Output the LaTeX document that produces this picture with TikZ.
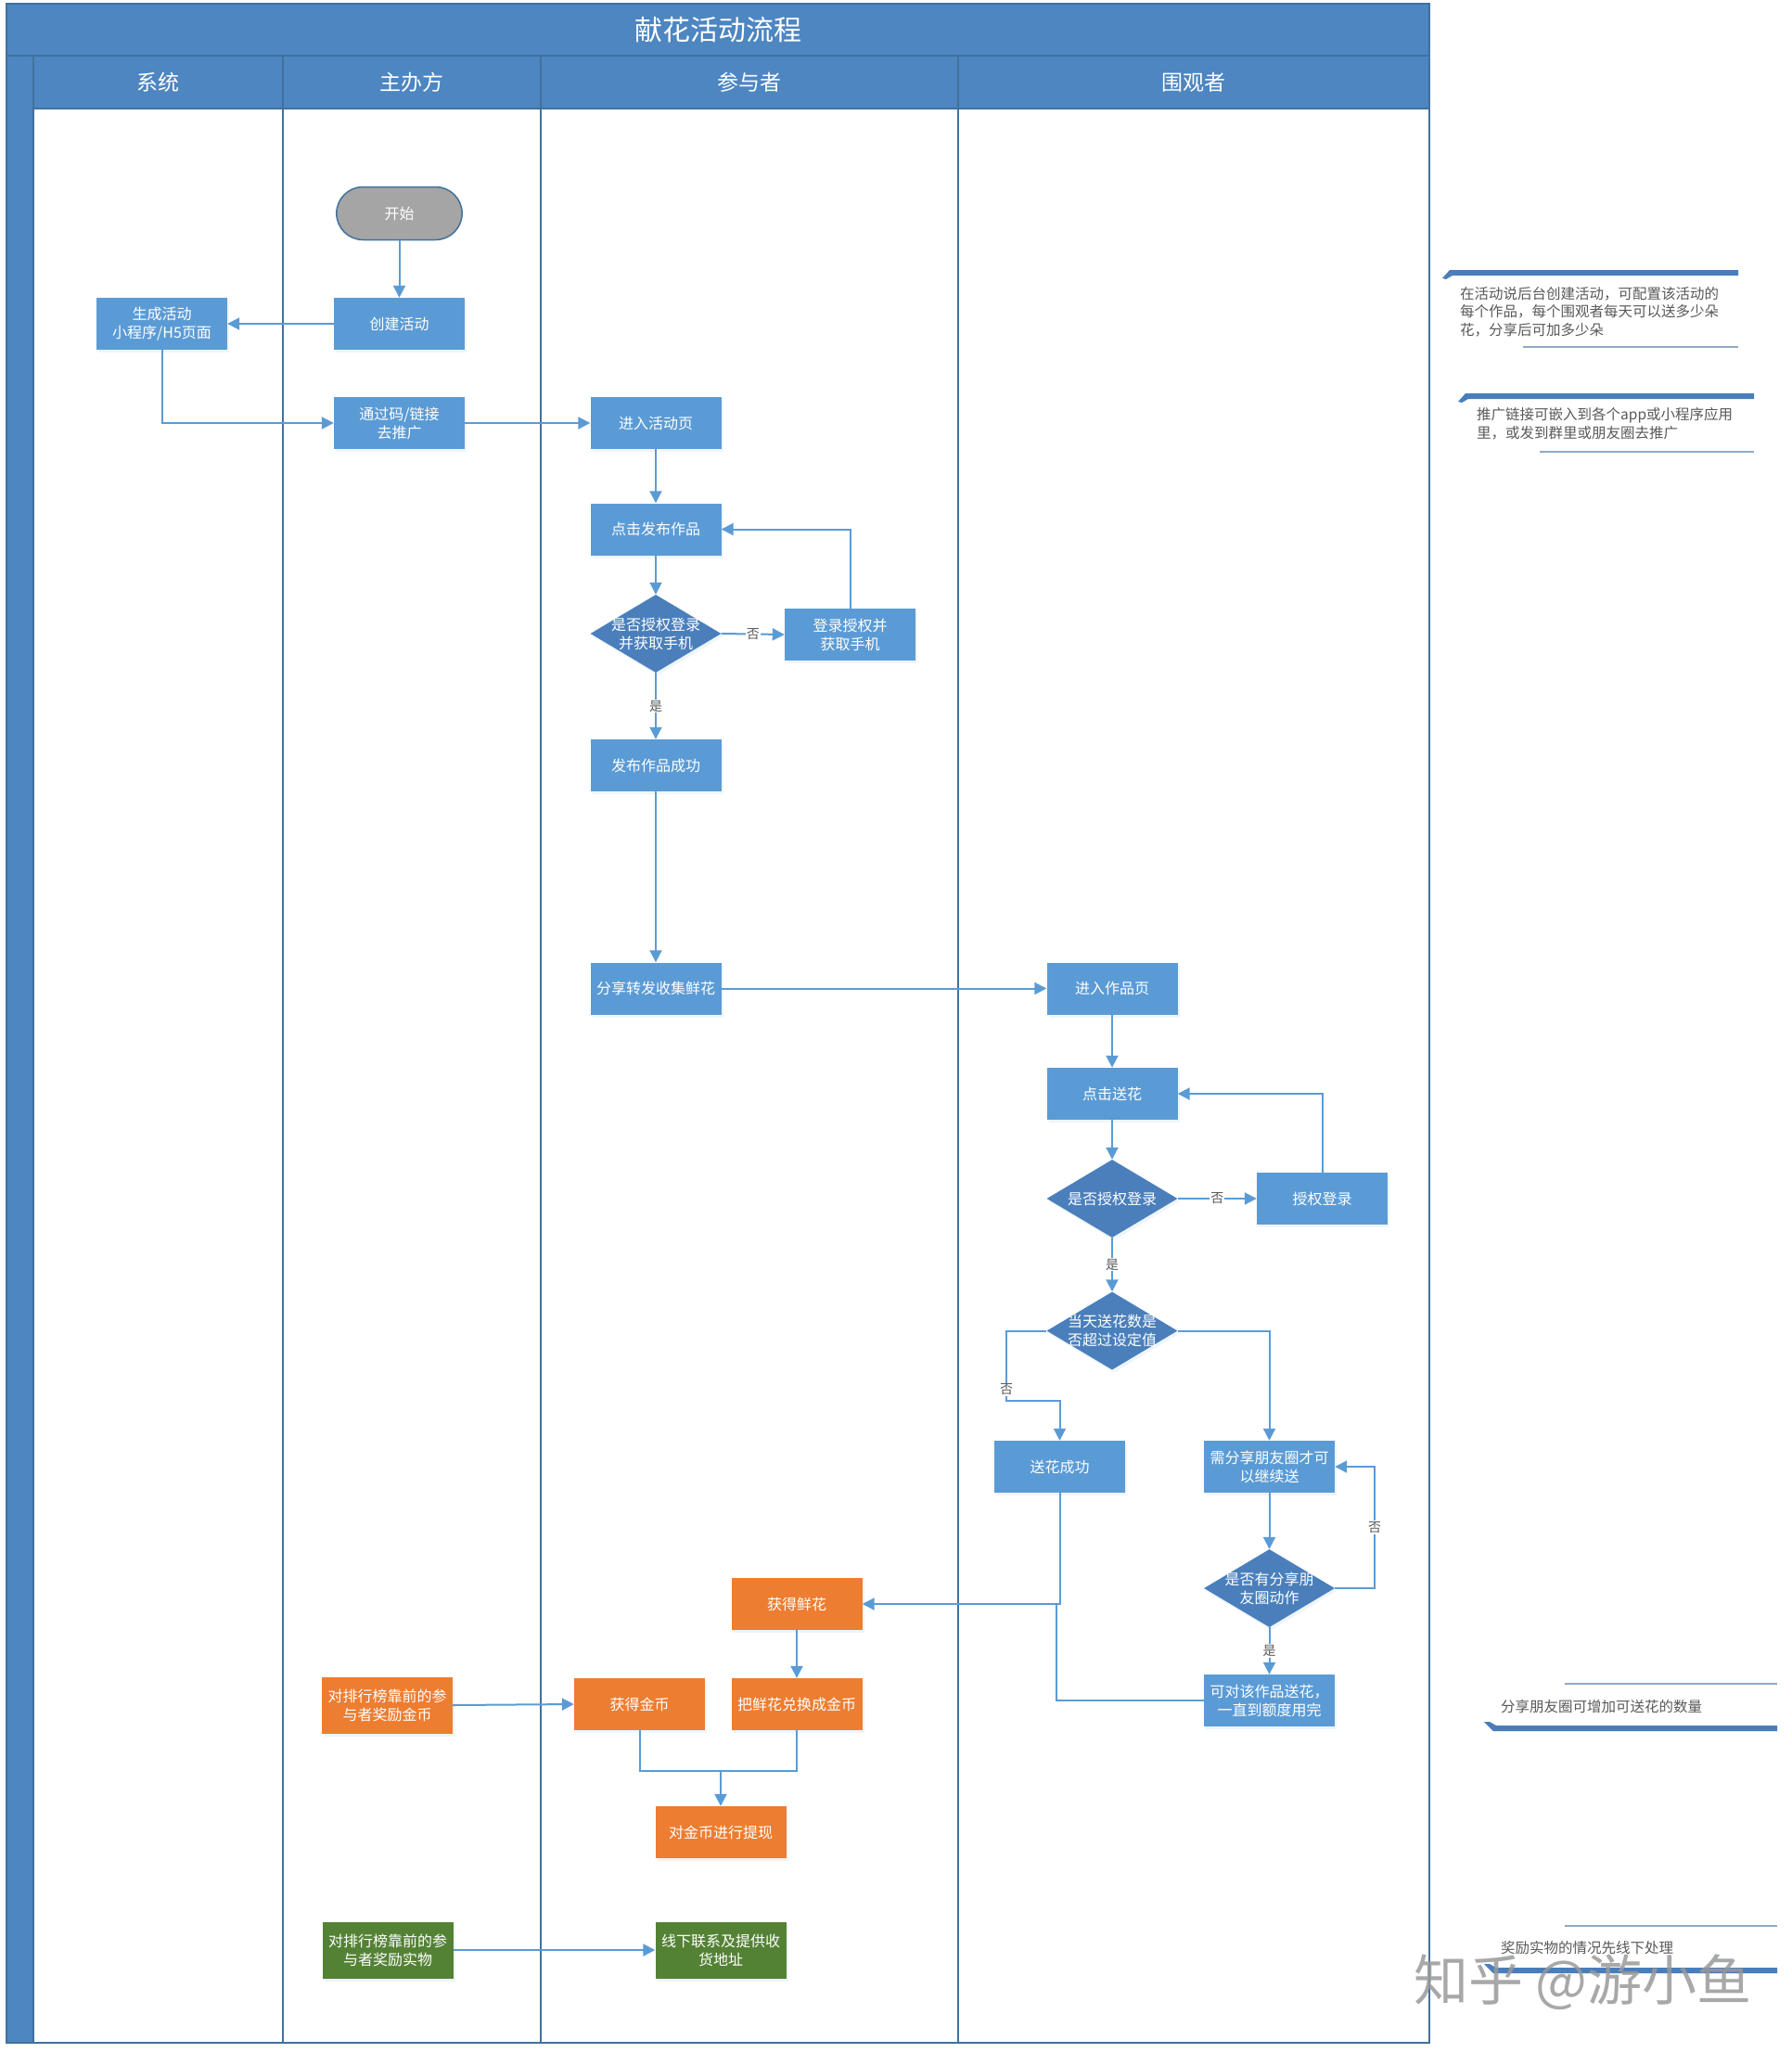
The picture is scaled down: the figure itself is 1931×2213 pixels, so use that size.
\documentclass[tikz,border=0pt]{standalone}
\usepackage{fontspec}
\newfontfamily\cjk{Noto Sans CJK SC}
\usetikzlibrary{arrows.meta,shapes.geometric,shapes.misc,shadows}
\definecolor{hdr}{HTML}{4D86C1}
\definecolor{lane}{HTML}{41719C}
\definecolor{bx}{HTML}{5B9BD5}
\definecolor{dia}{HTML}{4A7FBC}
\definecolor{org}{HTML}{ED7D31}
\definecolor{grn}{HTML}{548235}
\definecolor{stgray}{HTML}{A5A5A5}
\definecolor{note}{HTML}{595959}
\definecolor{barc}{HTML}{4A7EBB}
\definecolor{thinc}{HTML}{8FAAC4}
\begin{document}
\begin{tikzpicture}[x=1pt,y=-1pt,
  base/.style={rectangle, minimum width=141pt, minimum height=56pt, inner sep=2pt,
    text=white, align=center, font=\cjk\fontsize{16}{20}\selectfont,
    drop shadow={shadow xshift=2pt,shadow yshift=-3pt,opacity=0.2,fill=bx!50}},
  bbox/.style={base, fill=bx},
  obox/.style={base, fill=org},
  gbox/.style={base, fill=grn, minimum height=61pt},
  dbox/.style={diamond, fill=dia, minimum width=141pt, minimum height=84pt, inner sep=0pt,
    drop shadow={shadow xshift=2pt,shadow yshift=-3pt,opacity=0.2,fill=bx!50}},
  dlab/.style={text=white, align=center, inner sep=0pt, font=\cjk\fontsize{16}{20}\selectfont},
  stbox/.style={rounded rectangle, fill=stgray, draw=lane, line width=1.5pt,
    minimum width=142pt, minimum height=57pt, text=white, font=\cjk\fontsize{16}{20}\selectfont},
  arr/.style={-{Triangle[length=13pt,width=13pt]}, line width=2pt, draw=bx},
  plain/.style={line width=2pt, draw=bx},
  yn/.style={fill=white, inner sep=1pt, text=note, font=\cjk\fontsize{14}{14}\selectfont},
  hdrtxt/.style={text=white, font=\cjk\fontsize{23}{23}\selectfont},
  notetxt/.style={anchor=west, align=left, text=note, inner sep=0pt, font=\cjk\fontsize{15.5}{19.5}\selectfont},
  lanel/.style={draw=lane, line width=1.5pt},
  thinl/.style={draw=thinc, line width=1.6pt}
]
\useasboundingbox (0,0) rectangle (1931,2213);
\fill[white] (0,0) rectangle (1931,2213);
% ---------- pool frame ----------
\fill[hdr] (7,4) rectangle (1541,117);
\fill[hdr] (7,60) rectangle (36,2202);
\draw[lanel] (7,60) -- (1541,60);
\draw[lanel] (36,117) -- (1541,117);
\foreach \xx in {36,305,583,1033} { \draw[lanel] (\xx,60) -- (\xx,2202); }
\draw[lanel] (7,4) rectangle (1541,2202);
\node[text=white, font=\cjk\fontsize{30}{30}\selectfont] (title) at (774,32) {献花活动流程};
\node[hdrtxt] (h1) at (170,89) {系统};
\node[hdrtxt] (h2) at (444,89) {主办方};
\node[hdrtxt] (h3) at (808,89) {参与者};
\node[hdrtxt] (h4) at (1287,89) {围观者};
% ---------- nodes ----------
\node[stbox] (start) at (430.5,230) {开始};
\node[bbox] (gen) at (174.5,349) {生成活动\\小程序/H5页面};
\node[bbox] (create) at (430.5,349) {创建活动};
\node[bbox] (promote) at (430.5,456) {通过码/链接\\去推广};
\node[bbox] (enter) at (707,456) {进入活动页};
\node[bbox] (clickpub) at (707,570.5) {点击发布作品};
\node[dbox, label={[dlab]center:{是否授权登录\\并获取手机}}] (auth1) at (707,683) {};
\node[bbox] (login1) at (916.5,684) {登录授权并\\获取手机};
\node[bbox] (pubok) at (707,825) {发布作品成功};
\node[bbox] (share) at (707,1065.5) {分享转发收集鲜花};
\node[bbox] (enterwork) at (1199,1065.5) {进入作品页};
\node[bbox] (clickflower) at (1199,1179) {点击送花};
\node[dbox, label={[dlab]center:{是否授权登录}}] (auth2) at (1199,1292) {};
\node[bbox] (login2) at (1425.5,1292) {授权登录};
\node[dbox, label={[dlab]center:{当天送花数是\\否超过设定值}}] (limit) at (1199,1434.5) {};
\node[bbox] (sendok) at (1142.5,1581) {送花成功};
\node[bbox] (needshare) at (1368.5,1581) {需分享朋友圈才可\\以继续送};
\node[dbox, label={[dlab]center:{是否有分享朋\\友圈动作}}] (shared) at (1368.5,1712) {};
\node[bbox] (cansend) at (1368.5,1833) {可对该作品送花，\\一直到额度用完};
\node[obox] (getflower) at (859,1729) {获得鲜花};
\node[obox] (exchange) at (859,1837) {把鲜花兑换成金币};
\node[obox] (getcoin) at (689.5,1837) {获得金币};
\node[obox, minimum height=61pt] (rankcoin) at (417.5,1838) {对排行榜靠前的参\\与者奖励金币};
\node[obox] (withdraw) at (777,1975) {对金币进行提现};
\node[gbox] (rankgift) at (418,2102) {对排行榜靠前的参\\与者奖励实物};
\node[gbox] (offline) at (777,2102) {线下联系及提供收\\货地址};
% ---------- helper coordinates ----------
\coordinate (k1) at (1085,1510);
\coordinate (k2) at (1482,1712);
\coordinate (k3) at (1139,1729);
\coordinate (k4) at (777,1909);
% ---------- connectors ----------
\draw[arr] (start.south) -- (create.north);
\draw[arr] (create.west) -- (gen.east);
\draw[arr] (gen.south) |- (promote.west);
\draw[arr] (promote.east) -- (enter.west);
\draw[arr] (enter.south) -- (clickpub.north);
\draw[arr] (clickpub.south) -- (auth1.north);
\draw[arr] (auth1.east) -- node[yn]{否} (login1.west);
\draw[arr] (login1.north) |- (clickpub.east);
\draw[arr] (auth1.south) -- node[yn]{是} (pubok.north);
\draw[arr] (pubok.south) -- (share.north);
\draw[arr] (share.east) -- (enterwork.west);
\draw[arr] (enterwork.south) -- (clickflower.north);
\draw[arr] (clickflower.south) -- (auth2.north);
\draw[arr] (auth2.east) -- node[yn]{否} (login2.west);
\draw[arr] (login2.north) |- (clickflower.east);
\draw[arr] (auth2.south) -- node[yn]{是} (limit.north);
\draw[arr] (limit.west) -| node[yn,pos=0.92]{否} (k1) -| (sendok.north);
\draw[arr] (limit.east) -| (needshare.north);
\draw[arr] (needshare.south) -- (shared.north);
\draw[arr] (shared.east) -- (k2) |- node[yn,pos=0.25]{否} (needshare.east);
\draw[arr] (shared.south) -- node[yn]{是} (cansend.north);
\draw[arr] (sendok.south) |- (getflower.east);
\draw[plain] (cansend.west) -| (k3);
\draw[arr] (getflower.south) -- (exchange.north);
\draw[arr] (rankcoin.east) -- (getcoin.west);
\draw[plain] (getcoin.south) |- (k4) -| (exchange.south);
\draw[arr] (k4) -- (withdraw.north);
\draw[arr] (rankgift.east) -- (offline.west);
% ---------- annotations ----------
\fill[barc] (1555,300) -- (1563,291) -- (1874,291) -- (1874,297) -- (1566,297) -- (1559,301) -- cycle;
\node[notetxt] (n1) at (1574,336) {在活动说后台创建活动，可配置该活动的\\每个作品，每个围观者每天可以送多少朵\\花，分享后可加多少朵};
\draw[thinl] (1642,374) -- (1874,374);
\fill[barc] (1572,433) -- (1580,424) -- (1891,424) -- (1891,430) -- (1583,430) -- (1576,434) -- cycle;
\node[notetxt] (n2) at (1592,457) {推广链接可嵌入到各个app或小程序应用\\里，或发到群里或朋友圈去推广};
\draw[thinl] (1660,487) -- (1891,487);
\draw[thinl] (1687,1815) -- (1916,1815);
\node[notetxt] (n3) at (1618,1840) {分享朋友圈可增加可送花的数量};
\fill[barc] (1600,1856) -- (1606,1856) -- (1613,1860) -- (1916,1860) -- (1916,1866) -- (1610,1866) -- cycle;
\draw[thinl] (1687,2076) -- (1916,2076);
\node[notetxt] (n4) at (1618,2100) {奖励实物的情况先线下处理};
\fill[barc] (1600,2117) -- (1606,2117) -- (1613,2121) -- (1916,2121) -- (1916,2127) -- (1610,2127) -- cycle;
% ---------- watermark ----------
\node[text=black!40, opacity=0.85, font=\cjk\fontsize{59}{59}\selectfont] (wm) at (1706,2137) {知乎 @游小鱼};
\end{tikzpicture}
\end{document}
